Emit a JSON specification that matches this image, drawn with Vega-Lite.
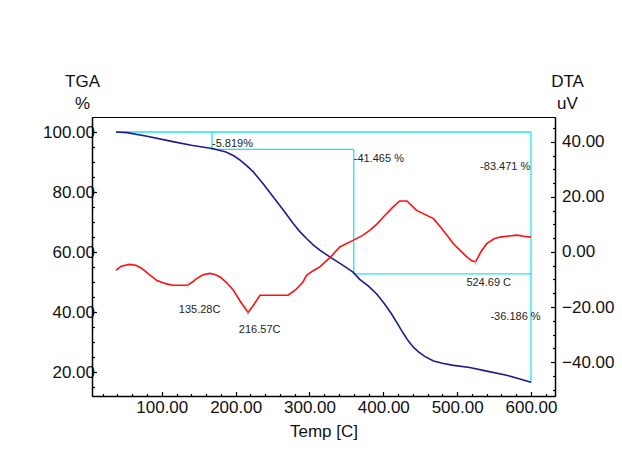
{
  "$schema": "https://vega.github.io/schema/vega-lite/v6.json",
  "width": 463,
  "height": 279,
  "autosize": "none",
  "padding": {"left": 92, "top": 117, "right": 67, "bottom": 62},
  "background": "white",
  "config": {
    "view": {"stroke": "#000", "strokeWidth": 1},
    "font": "Liberation Sans, Arial, sans-serif",
    "axis": {
      "grid": false,
      "domainColor": "#000",
      "domainWidth": 1.5,
      "tickColor": "#000",
      "tickWidth": 1.2,
      "labelColor": "#111",
      "titleColor": "#111",
      "labelFont": "Liberation Sans, Arial, sans-serif",
      "titleFont": "Liberation Sans, Arial, sans-serif",
      "labelFontSize": 17,
      "titleFontSize": 17,
      "titleFontWeight": "normal"
    },
    "text": {"font": "Liberation Sans, Arial, sans-serif"}
  },
  "datasets": {
    "tga": [
      {"T": 38, "v": 100}, {"T": 53, "v": 99.8}, {"T": 80, "v": 98.6}, {"T": 115, "v": 96.8},
      {"T": 140, "v": 95.6}, {"T": 168, "v": 94.5}, {"T": 187, "v": 93.3}, {"T": 198, "v": 92.0},
      {"T": 206, "v": 90.6}, {"T": 215, "v": 88.8}, {"T": 224, "v": 86.7}, {"T": 237, "v": 82.8},
      {"T": 251, "v": 78.3}, {"T": 265, "v": 73.8}, {"T": 278, "v": 69.5}, {"T": 287, "v": 66.8},
      {"T": 296, "v": 64.5}, {"T": 305, "v": 62.4}, {"T": 314, "v": 60.6}, {"T": 328, "v": 58.3},
      {"T": 345, "v": 55.6}, {"T": 359, "v": 53.3}, {"T": 368, "v": 50.9}, {"T": 380, "v": 48.6},
      {"T": 391, "v": 46.0}, {"T": 401, "v": 42.9}, {"T": 411, "v": 39.4}, {"T": 419, "v": 36.2},
      {"T": 427, "v": 32.9}, {"T": 434, "v": 30.3}, {"T": 441, "v": 28.2}, {"T": 448, "v": 26.6},
      {"T": 456, "v": 25.2}, {"T": 468, "v": 23.7}, {"T": 480, "v": 22.9}, {"T": 495, "v": 22.2},
      {"T": 517, "v": 21.5}, {"T": 540, "v": 20.3}, {"T": 567, "v": 18.9}, {"T": 585, "v": 17.7},
      {"T": 600, "v": 16.6}
    ],
    "dta": [
      {"T": 38, "d": -6.6}, {"T": 45, "d": -5.2}, {"T": 56, "d": -4.5}, {"T": 65, "d": -4.8},
      {"T": 72, "d": -5.8}, {"T": 82, "d": -8.0}, {"T": 93, "d": -10.3}, {"T": 105, "d": -11.5},
      {"T": 115, "d": -12.1}, {"T": 135, "d": -12.1}, {"T": 141, "d": -11.0}, {"T": 147, "d": -9.7},
      {"T": 156, "d": -8.3}, {"T": 165, "d": -7.8}, {"T": 172, "d": -8.2}, {"T": 179, "d": -9.1},
      {"T": 188, "d": -11.2}, {"T": 197, "d": -13.9}, {"T": 206, "d": -17.8}, {"T": 217, "d": -22.0},
      {"T": 225, "d": -19.0}, {"T": 233, "d": -15.7}, {"T": 271, "d": -15.7}, {"T": 281, "d": -13.8},
      {"T": 291, "d": -11.0}, {"T": 296, "d": -8.5}, {"T": 305, "d": -6.8}, {"T": 314, "d": -5.4},
      {"T": 328, "d": -2.0}, {"T": 341, "d": 1.8}, {"T": 359, "d": 4.2}, {"T": 372, "d": 6.0},
      {"T": 382, "d": 7.9}, {"T": 392, "d": 10.3}, {"T": 400, "d": 12.7}, {"T": 412, "d": 16.0},
      {"T": 422, "d": 18.5}, {"T": 432, "d": 18.5}, {"T": 445, "d": 15.1}, {"T": 468, "d": 12.1},
      {"T": 481, "d": 7.9}, {"T": 495, "d": 3.0}, {"T": 505, "d": 0.3}, {"T": 513, "d": -1.8},
      {"T": 520, "d": -3.2}, {"T": 525, "d": -3.6}, {"T": 532, "d": 0.0}, {"T": 540, "d": 3.0},
      {"T": 550, "d": 4.8}, {"T": 558, "d": 5.4}, {"T": 570, "d": 5.8}, {"T": 581, "d": 6.1},
      {"T": 590, "d": 5.7}, {"T": 600, "d": 5.4}
    ],
    "steps": [
      {"T1": 38, "T2": 600, "v1": 100, "v2": 100},
      {"T1": 168, "T2": 168, "v1": 100, "v2": 94.18},
      {"T1": 168, "T2": 360, "v1": 94.18, "v2": 94.18},
      {"T1": 360, "T2": 360, "v1": 94.18, "v2": 52.72},
      {"T1": 360, "T2": 600, "v1": 52.72, "v2": 52.72},
      {"T1": 600, "T2": 600, "v1": 100, "v2": 16.53}
    ],
    "peaks": [
      {"T": 135.28, "d": -12.1, "label": "135.28C", "ly": -22.3},
      {"T": 216.57, "d": -22.0, "label": "216.57C", "ly": -29.6},
      {"T": 524.69, "d": -3.6, "label": "524.69 C", "ly": -12.45}
    ],
    "tgaLeft": [
      {"label": "-5.819%", "T": 168, "v": 95.0},
      {"label": "-41.465 %", "T": 360, "v": 90.0}
    ],
    "tgaRight": [
      {"label": "-83.471 %", "T": 599, "v": 87.5},
      {"label": "-36.186 %", "T": 613, "v": 37.5}
    ]
  },
  "layer": [
    {
      "layer": [
        {
          "data": {"name": "steps"},
          "mark": {"type": "rule", "color": "#1fe3f0", "strokeWidth": 1.3},
          "encoding": {
            "x": {"field": "T1", "type": "quantitative", "scale": {"domain": [5.5, 632.5], "nice": false, "zero": false}},
            "x2": {"field": "T2"},
            "y": {"field": "v1", "type": "quantitative", "scale": {"domain": [12, 105], "nice": false, "zero": false}},
            "y2": {"field": "v2"}
          }
        },
        {
          "data": {"name": "tga"},
          "mark": {"type": "line", "color": "#1c1c8c", "strokeWidth": 1.6},
          "encoding": {
            "x": {"field": "T", "type": "quantitative", "scale": {"domain": [5.5, 632.5], "nice": false, "zero": false},
              "axis": {"orient": "bottom", "labelOverlap": false, "tickCount": 200,
                "values": [20, 40, 60, 80, 100, 120, 140, 160, 180, 200, 220, 240, 260, 280, 300, 320, 340, 360, 380, 400, 420, 440, 460, 480, 500, 520, 540, 560, 580, 600, 620],
                "labelExpr": "datum.value % 100 === 0 ? format(datum.value, '.2f') : ''",
                "tickSize": {"condition": {"test": "datum.value % 100 === 0", "value": -4.5}, "value": -2.5},
                "labelPadding": 8, "title": "Temp [C]", "titlePadding": 6}},
            "y": {"field": "v", "type": "quantitative", "scale": {"domain": [12, 105], "nice": false, "zero": false},
              "axis": {"orient": "left", "labelOverlap": false, "tickCount": 200,
                "values": [15, 20, 25, 30, 35, 40, 45, 50, 55, 60, 65, 70, 75, 80, 85, 90, 95, 100],
                "labelExpr": "datum.value % 20 === 0 ? format(datum.value, '.2f') : ''",
                "tickSize": {"condition": {"test": "datum.value % 20 === 0", "value": -4.5}, "value": -2.5},
                "labelPadding": 2, "labelBaseline": "middle",
                "title": ["TGA", "%"], "titleAngle": 0, "titleAlign": "center", "titleBaseline": "alphabetic", "titleX": -10, "titleY": -31, "titleLineHeight": 22}}
          }
        },
        {
          "data": {"name": "tgaLeft"},
          "mark": {"type": "text", "align": "left", "baseline": "alphabetic", "fontSize": 11, "color": "#222"},
          "encoding": {
            "x": {"field": "T", "type": "quantitative"},
            "y": {"field": "v", "type": "quantitative"},
            "text": {"field": "label"}
          }
        },
        {
          "data": {"name": "tgaRight"},
          "mark": {"type": "text", "align": "right", "baseline": "alphabetic", "fontSize": 11, "color": "#222"},
          "encoding": {
            "x": {"field": "T", "type": "quantitative"},
            "y": {"field": "v", "type": "quantitative"},
            "text": {"field": "label"}
          }
        }
      ]
    },
    {
      "layer": [
        {
          "data": {"name": "dta"},
          "mark": {"type": "line", "color": "#ff1010", "strokeWidth": 1.6},
          "encoding": {
            "x": {"field": "T", "type": "quantitative", "scale": {"domain": [5.5, 632.5], "nice": false, "zero": false}},
            "y": {"field": "d", "type": "quantitative", "scale": {"domain": [-52.3, 49], "nice": false, "zero": false},
              "axis": {"orient": "right", "labelOverlap": false, "tickCount": 200,
                "values": [-50, -45, -40, -35, -30, -25, -20, -15, -10, -5, 0, 5, 10, 15, 20, 25, 30, 35, 40, 45],
                "labelExpr": "datum.value % 20 === 0 ? format(datum.value, '.2f') : ''",
                "tickSize": {"condition": {"test": "datum.value % 20 === 0", "value": -4.5}, "value": -2.5},
                "labelPadding": 11, "labelBaseline": "middle",
                "title": ["DTA", "uV"], "titleAngle": 0, "titleAlign": "center", "titleBaseline": "alphabetic", "titleX": 12, "titleY": -31, "titleLineHeight": 22}}
          }
        },
        {
          "data": {"name": "peaks"},
          "mark": {"type": "tick", "orient": "vertical", "color": "#1fe3f0", "size": 6, "thickness": 1},
          "encoding": {
            "x": {"field": "T", "type": "quantitative"},
            "y": {"field": "d", "type": "quantitative"}
          }
        },
        {
          "data": {"name": "peaks"},
          "mark": {"type": "text", "align": "left", "baseline": "alphabetic", "dx": -9, "fontSize": 11, "color": "#222"},
          "encoding": {
            "x": {"field": "T", "type": "quantitative"},
            "y": {"field": "ly", "type": "quantitative"},
            "text": {"field": "label"}
          }
        }
      ]
    }
  ],
  "resolve": {"scale": {"y": "independent"}}
}
